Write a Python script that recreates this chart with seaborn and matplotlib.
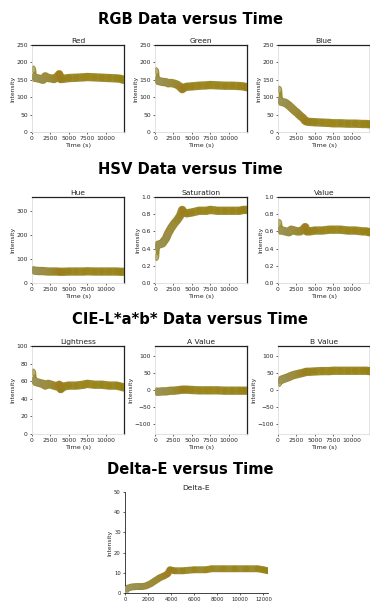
import matplotlib
matplotlib.use("Agg")
import matplotlib.pyplot as plt
import seaborn as sns
import numpy as np
import pandas as pd

sns.set_theme(style="ticks")
plt.rcParams['font.family'] = ['DejaVu Sans']

# ---- data ----
time_s = [0, 100, 300, 600, 1000, 1500, 1800, 2200, 2600, 3000, 3400, 3700, 3900, 4300, 5000,
          6000, 7000, 7500, 8500, 9500, 10500, 11500, 12000, 12400]

red = [180, 158, 156, 155, 153, 150, 160, 155, 154, 152, 158, 166, 152, 153, 155,
       156, 157, 158, 157, 156, 155, 154, 153, 150]
green = [175, 150, 148, 146, 144, 143, 140, 141, 139, 136, 130, 123, 127, 130, 131,
         133, 134, 135, 134, 133, 133, 132, 131, 129]
blue = [122, 92, 88, 86, 84, 76, 70, 62, 55, 47, 40, 32, 30, 29, 28,
        27, 26, 25, 25, 24, 24, 23, 23, 22]

hue = [55, 53, 52, 51, 50, 50, 49, 48, 48, 48, 48, 47, 47, 47, 48,
       48, 48, 49, 48, 48, 48, 48, 47, 47]
saturation = [0.30, 0.42, 0.44, 0.45, 0.46, 0.52, 0.58, 0.64, 0.69, 0.73, 0.78, 0.85, 0.82, 0.81, 0.82,
              0.84, 0.84, 0.85, 0.84, 0.84, 0.84, 0.84, 0.85, 0.85]
value = [0.70, 0.62, 0.61, 0.61, 0.60, 0.59, 0.62, 0.61, 0.60, 0.60, 0.62, 0.65, 0.60, 0.60, 0.61,
         0.61, 0.62, 0.62, 0.62, 0.61, 0.61, 0.60, 0.60, 0.59]

lightness = [70, 61, 60, 59, 58, 57, 55, 57, 56, 55, 54, 56, 51, 54, 55,
             55, 56, 57, 56, 56, 55, 55, 54, 53]
a_value = [-4, -5, -5, -5, -4, -4, -3, -2, -2, -1, 0, 1, 1, 1, 0,
           -1, -1, -1, -1, -2, -2, -2, -2, -2]
b_value = [20, 26, 28, 31, 34, 38, 41, 44, 46, 48, 50, 52, 53, 53, 54,
           55, 55, 56, 56, 56, 56, 56, 56, 55]
delta_e = [0.5, 2, 2.5, 3, 3.2, 3.2, 3.5, 4.5, 6, 7.5, 8.5, 9.5, 11.5, 11, 11,
           11.5, 11.5, 12, 12, 12, 12, 12, 11.5, 11]

sections = ["RGB Data versus Time", "HSV Data versus Time",
            "CIE-L*a*b* Data versus Time", "Delta-E versus Time"]
rgb_titles = ["Red", "Green", "Blue"]
hsv_titles = ["Hue", "Saturation", "Value"]
lab_titles = ["Lightness", "A Value", "B Value"]
de_title = "Delta-E"

df = pd.DataFrame({"t": time_s, "Red": red, "Green": green, "Blue": blue,
                   "Hue": hue, "Saturation": saturation, "Value": value,
                   "Lightness": lightness, "A Value": a_value, "B Value": b_value,
                   "Delta-E": delta_e})
point_colors = [(r / 255, g / 255, b / 255) for r, g, b in zip(red, green, blue)]
line_color = "#968526"

W, H = 370, 601
fig = plt.figure(figsize=(W / 100, H / 100), dpi=100)
fig.patch.set_facecolor("white")


def ax_at(left, top, w, h):
    return fig.add_axes([left / W, 1 - (top + h) / H, w / W, h / H])


def style(ax, title, ylim, yticks, xticks, left_dark=False, box=True, xlabel=True):
    ax.set_title(title, fontsize=5.4, pad=1.5, color="#222222")
    ax.set_ylim(*ylim)
    ax.set_yticks(yticks)
    ax.set_xlim(0, 12500)
    ax.set_xticks(xticks)
    ax.tick_params(labelsize=4.3, length=1.5, width=0.5, pad=1.5)
    ax.set_xlabel("Time (s)" if xlabel else "", fontsize=4.6, labelpad=1)
    ax.set_ylabel("Intensity", fontsize=4.3, labelpad=1)
    for s in ["left", "bottom"]:
        ax.spines[s].set_color("#222222" if left_dark else "#dddddd")
        ax.spines[s].set_linewidth(0.6)
    for s in ["top", "right"]:
        ax.spines[s].set_visible(box)
        ax.spines[s].set_color("#222222")
        ax.spines[s].set_linewidth(0.9)


def draw(ax, col, lw=6, ms=22):
    sns.lineplot(data=df, x="t", y=col, ax=ax, color=line_color, linewidth=lw, alpha=0.95)
    sns.scatterplot(data=df, x="t", y=col, ax=ax, c=point_colors, s=ms, linewidth=0, zorder=3)


xt = [0, 2500, 5000, 7500, 10000]

# section titles
for ypix, txt in zip([20, 170, 320, 470], sections):
    fig.text(190 / W, 1 - ypix / H, txt, ha="center", va="center",
             fontsize=10.6, fontweight="bold", color="black")

lefts = [32, 155, 278]
# RGB row
for lx, name in zip(lefts, rgb_titles):
    ax = ax_at(lx, 45, 92, 87)
    draw(ax, name)
    style(ax, name, (0, 250), [0, 50, 100, 150, 200, 250], xt)

# HSV row
for lx, name in zip(lefts, hsv_titles):
    ax = ax_at(lx, 197, 92, 86)
    draw(ax, name)
    if name == "Hue":
        style(ax, name, (0, 360), [0, 100, 200, 300], xt)
    else:
        style(ax, name, (0, 1), [0, 0.2, 0.4, 0.6, 0.8, 1.0], xt)

# Lab row
for lx, name in zip(lefts, lab_titles):
    ax = ax_at(lx, 346, 92, 88)
    draw(ax, name)
    if name == "Lightness":
        style(ax, name, (0, 100), [0, 20, 40, 60, 80, 100], xt)
    else:
        style(ax, name, (-128, 128), [-100, -50, 0, 50, 100], xt)

# Delta-E (its x label falls below the canvas in the reference)
ax = ax_at(125, 492, 143, 101)
draw(ax, "Delta-E", lw=5, ms=18)
style(ax, de_title, (0, 50), [0, 10, 20, 30, 40, 50],
      [0, 2000, 4000, 6000, 8000, 10000, 12000], left_dark=True, box=False, xlabel=False)
ax.set_xlim(0, 12400)
ax.tick_params(labelsize=3.8)

fig.savefig("out.png", dpi=100)
